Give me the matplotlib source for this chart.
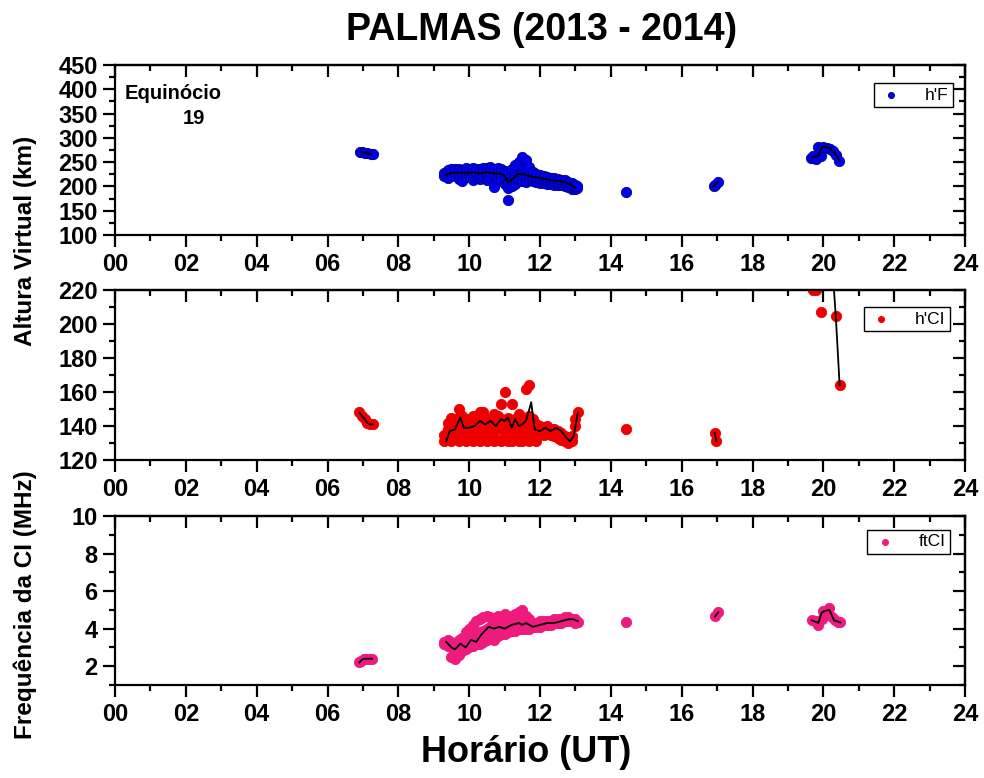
import numpy as np
import matplotlib
matplotlib.use("Agg")
import matplotlib.pyplot as plt

plt.rcParams['font.family'] = ['Liberation Sans', 'DejaVu Sans']

# ---- h'F (km) ----
hf_t = [6.92, 6.98, 7.05, 7.12, 7.22, 7.28,
        9.3, 9.3, 9.4, 9.4, 9.4, 9.5, 9.5, 9.5, 9.6, 9.6, 9.6, 9.7, 9.7, 9.7,
        9.8, 9.8, 9.8, 9.9, 9.9, 9.9, 10.0, 10.0, 10.0, 10.1, 10.1, 10.1,
        10.2, 10.2, 10.2, 10.3, 10.3, 10.3, 10.4, 10.4, 10.4, 10.5, 10.5, 10.5,
        10.6, 10.6, 10.6, 10.7, 10.7, 10.7, 10.8, 10.8, 10.8, 10.9, 10.9, 10.9,
        11.0, 11.0, 11.0, 11.1, 11.1, 11.1, 11.1, 11.2, 11.2, 11.2, 11.2,
        11.3, 11.3, 11.3, 11.3, 11.4, 11.4, 11.4, 11.5, 11.5, 11.5, 11.5,
        11.6, 11.6, 11.6, 11.6, 11.7, 11.7, 11.7, 11.8, 11.8, 11.8,
        11.9, 11.9, 11.9, 12.0, 12.0, 12.0, 12.1, 12.1, 12.1, 12.2, 12.2, 12.2,
        12.3, 12.3, 12.3, 12.4, 12.4, 12.4, 12.5, 12.5, 12.5, 12.6, 12.6, 12.6,
        12.7, 12.7, 12.7, 12.8, 12.8, 12.8, 12.9, 12.9, 12.9, 13.0, 13.0, 13.0,
        13.05, 13.05,
        14.43,
        16.9, 16.95, 17.03,
        19.65, 19.72, 19.8, 19.86, 19.92, 20.0, 20.1, 20.2, 20.28, 20.35, 20.45]
hf_v = [270, 271, 269, 268, 267, 266,
        222, 228, 218, 226, 233, 224, 230, 236, 221, 229, 235, 215, 226, 236,
        212, 228, 234, 219, 227, 237, 222, 230, 236, 214, 226, 238,
        220, 229, 235, 216, 224, 236, 222, 231, 238, 213, 227, 237,
        219, 230, 240, 198, 224, 236, 216, 229, 239, 212, 226, 235,
        205, 218, 232, 172, 196, 210, 228, 200, 212, 226, 236,
        205, 218, 232, 245, 215, 226, 251, 212, 222, 234, 261,
        210, 220, 231, 255, 215, 225, 241, 212, 221, 230,
        210, 218, 226, 208, 216, 224, 207, 215, 222, 206, 213, 219,
        205, 212, 218, 204, 211, 217, 203, 210, 215, 202, 208, 214,
        200, 207, 213, 198, 204, 210, 195, 201, 207, 194, 198, 204,
        196, 200,
        189,
        200, 204, 210,
        258, 262, 256, 282, 262, 282, 280, 278, 272, 265, 253]
hf_line_t = [6.95, 7.05, 7.25, np.nan,
             9.35, 9.5, 9.7, 9.9, 10.1, 10.3, 10.5, 10.7, 10.9, 11.0, 11.1, 11.2,
             11.35, 11.5, 11.7, 11.9, 12.1, 12.3, 12.5, 12.7, 12.85, 13.0, np.nan,
             16.9, 17.03, np.nan,
             19.7, 19.86, 19.95, 20.05, 20.2, 20.35, 20.45]
hf_line_v = [270, 269, 267, np.nan,
             224, 228, 229, 228, 229, 227, 229, 227, 226, 222, 208, 214,
             224, 227, 221, 219, 216, 213, 212, 209, 205, 197, np.nan,
             200, 210, np.nan,
             260, 262, 280, 282, 278, 266, 253]

# ---- h'CI (km) ----
hc_t = [6.9, 6.97, 7.05, 7.12, 7.2, 7.27,
        9.3, 9.3, 9.4, 9.4, 9.4, 9.5, 9.5, 9.5, 9.5, 9.6, 9.6, 9.6,
        9.7, 9.7, 9.7, 9.7, 9.8, 9.8, 9.8, 9.9, 9.9, 9.9, 10.0, 10.0, 10.0,
        10.1, 10.1, 10.1, 10.1, 10.2, 10.2, 10.2, 10.3, 10.3, 10.3, 10.3,
        10.4, 10.4, 10.4, 10.4, 10.5, 10.5, 10.5, 10.6, 10.6, 10.6,
        10.7, 10.7, 10.7, 10.7, 10.8, 10.8, 10.8, 10.9, 10.9, 10.9, 10.9,
        11.0, 11.0, 11.0, 11.0, 11.1, 11.1, 11.1, 11.2, 11.2, 11.2, 11.2,
        11.3, 11.3, 11.3, 11.4, 11.4, 11.4, 11.4, 11.5, 11.5, 11.5,
        11.6, 11.6, 11.6, 11.6, 11.7, 11.7, 11.7, 11.7, 11.8, 11.8, 11.8,
        11.9, 11.9, 11.9, 12.0, 12.0, 12.1, 12.1, 12.2, 12.2, 12.3, 12.3,
        12.4, 12.4, 12.5, 12.5, 12.6, 12.6, 12.7, 12.7, 12.8, 12.8,
        12.9, 12.9, 13.0, 13.0, 13.07,
        14.43,
        16.93, 16.98,
        19.7, 19.8, 19.93, 20.35, 20.46]
hc_v = [148, 146, 144, 142, 141, 141,
        131, 135, 132, 138, 142, 131, 136, 141, 145, 133, 139, 144,
        131, 137, 142, 150, 134, 140, 146, 131, 136, 143, 132, 138, 144,
        131, 135, 141, 146, 133, 139, 145, 131, 137, 143, 148,
        132, 140, 145, 148, 131, 136, 142, 133, 139, 144,
        131, 137, 143, 147, 132, 140, 146, 131, 138, 144, 153,
        132, 136, 142, 160, 131, 139, 145, 131, 135, 141, 153,
        132, 138, 144, 131, 136, 142, 147, 131, 139, 145,
        132, 137, 143, 162, 131, 140, 146, 164, 133, 138, 144,
        131, 136, 141, 137, 140, 135, 139, 136, 140, 135, 138,
        134, 138, 133, 137, 132, 136, 131, 134, 130, 133,
        131, 134, 140, 144, 148,
        138,
        136, 131,
        220, 220, 207, 205, 164]
hc_line_t = [6.9, 6.97, 7.05, 7.12, 7.2, 7.27, np.nan,
             9.35, 9.45, 9.6, 9.75, 9.85, 10.0, 10.15, 10.3, 10.45, 10.6, 10.75,
             10.9, 11.0, 11.1, 11.2, 11.3, 11.4, 11.5, 11.6, 11.7, 11.75, 11.85,
             12.0, 12.15, 12.3, 12.45, 12.6, 12.75, 12.85, 12.95, 13.07, np.nan,
             16.93, 16.98, np.nan,
             20.2, 20.35, 20.46]
hc_line_v = [148, 146, 144, 142, 141, 141, np.nan,
             131, 137, 138, 145, 139, 139, 140, 143, 141, 143, 140,
             144, 143, 145, 139, 144, 140, 141, 143, 150, 154, 138,
             137, 139, 137, 139, 137, 133, 131, 134, 148, np.nan,
             136, 131, np.nan,
             250, 205, 164]

# ---- ftCI (MHz) ----
fc_t = [6.9, 6.95, 7.02, 7.1, 7.18, 7.26,
        9.3, 9.3, 9.4, 9.4, 9.5, 9.5, 9.5, 9.6, 9.6, 9.6, 9.7, 9.7, 9.7,
        9.8, 9.8, 9.8, 9.9, 9.9, 9.9, 10.0, 10.0, 10.0, 10.1, 10.1, 10.1,
        10.2, 10.2, 10.2, 10.3, 10.3, 10.3, 10.4, 10.4, 10.4, 10.5, 10.5, 10.5,
        10.6, 10.6, 10.6, 10.7, 10.7, 10.7, 10.8, 10.8, 10.8, 10.9, 10.9, 10.9,
        11.0, 11.0, 11.0, 11.1, 11.1, 11.1, 11.2, 11.2, 11.2, 11.3, 11.3, 11.3,
        11.4, 11.4, 11.4, 11.5, 11.5, 11.5, 11.6, 11.6, 11.6, 11.7, 11.7, 11.7,
        11.8, 11.8, 11.9, 11.9, 12.0, 12.0, 12.1, 12.1, 12.2, 12.2, 12.3, 12.3,
        12.4, 12.4, 12.5, 12.5, 12.6, 12.6, 12.7, 12.7, 12.8, 12.8, 12.9, 12.9,
        13.0, 13.0, 13.07,
        14.43,
        16.94, 17.03,
        19.67, 19.78, 19.86, 19.95, 20.0, 20.1, 20.17, 20.25, 20.32, 20.4, 20.48]
fc_v = [2.2, 2.3, 2.4, 2.4, 2.4, 2.4,
        3.3, 3.2, 3.1, 3.4, 2.5, 3.0, 3.3, 2.4, 2.9, 3.2, 2.6, 3.1, 3.4,
        2.8, 3.2, 3.5, 2.9, 3.3, 3.8, 3.0, 3.5, 4.0, 3.1, 3.6, 4.2,
        3.2, 3.7, 4.4, 3.2, 3.8, 4.5, 3.3, 3.9, 4.6, 3.4, 4.0, 4.7,
        3.5, 4.1, 4.6, 3.4, 4.0, 4.5, 3.6, 4.1, 4.7, 3.7, 4.2, 4.6,
        3.7, 4.2, 4.8, 3.8, 4.3, 4.7, 3.9, 4.3, 4.6, 3.9, 4.3, 4.8,
        4.0, 4.4, 4.9, 4.0, 4.3, 5.0, 4.0, 4.3, 4.7, 4.0, 4.3, 4.5,
        4.1, 4.3, 4.1, 4.3, 4.1, 4.4, 4.2, 4.4, 4.2, 4.4, 4.2, 4.4,
        4.3, 4.5, 4.3, 4.5, 4.3, 4.5, 4.4, 4.6, 4.4, 4.6, 4.4, 4.5,
        4.3, 4.5, 4.35,
        4.35,
        4.65, 4.87,
        4.48, 4.4, 4.21, 4.5, 4.92, 4.95, 5.1, 4.6, 4.48, 4.35, 4.33]
fc_line_t = [6.9, 6.97, 7.05, 7.15, 7.26, np.nan,
             9.35, 9.5, 9.6, 9.75, 9.9, 10.05, 10.2, 10.35, 10.45, 10.55, 10.7,
             10.85, 11.0, 11.2, 11.4, 11.5, 11.6, 11.8, 12.0, 12.2, 12.4, 12.6,
             12.8, 12.95, 13.07, np.nan,
             16.94, 17.03, np.nan,
             19.67, 19.86, 19.95, 20.05, 20.17, 20.3, 20.48]
fc_line_v = [2.2, 2.35, 2.4, 2.4, 2.4, np.nan,
             3.3, 3.0, 2.9, 3.2, 3.0, 3.4, 3.3, 3.7, 3.9, 4.1, 4.0,
             4.1, 4.0, 4.2, 4.3, 4.2, 4.3, 4.1, 4.2, 4.3, 4.3, 4.4,
             4.5, 4.5, 4.4, np.nan,
             4.65, 4.87, np.nan,
             4.45, 4.3, 4.85, 4.95, 5.0, 4.45, 4.33]

hours = [0, 2, 4, 6, 8, 10, 12, 14, 16, 18, 20, 22, 24]
hour_labels = ['00', '02', '04', '06', '08', '10', '12', '14', '16', '18', '20', '22', '24']

fig = plt.figure(figsize=(9.84, 7.78), dpi=100)
L, W, H = 0.1169, 0.8638, 0.2185
ax1 = fig.add_axes([L, 0.6979, W, H])
ax2 = fig.add_axes([L, 0.4087, W, H])
ax3 = fig.add_axes([L, 0.1195, W, 0.2173])

panels = [
    (ax1, hf_t, hf_v, hf_line_t, hf_line_v, '#0000ee', '#00008a', "h'F", (100, 450), 50, 25, (0.986, 0.894)),
    (ax2, hc_t, hc_v, hc_line_t, hc_line_v, '#ee0000', '#ee0000', "h'CI", (120, 220), 20, 10, (0.982, 0.9)),
    (ax3, fc_t, fc_v, fc_line_t, fc_line_v, '#ee1a7d', '#ee1a7d', "ftCI", (1, 10), 2, 1, (0.982, 0.917)),
]

MAJ, MIN, LW = 8.6, 4.3, 1.6
for ax, t, v, lt, lv, col, ecol, lab, ylim, major, minor, anchor in panels:
    ax.scatter(t, v, s=55, color=col, edgecolors=ecol, linewidths=0.6, zorder=2, label=lab)
    ax.plot(lt, lv, color='black', lw=1.3, zorder=3)
    ax.set_xlim(0, 24)
    ax.set_ylim(*ylim)
    ax.set_xticks(hours)
    ax.set_xticklabels(hour_labels)
    ax.set_xticks(np.arange(1, 24, 2), minor=True)
    if lab == 'ftCI':
        ax.set_yticks([2, 4, 6, 8, 10])
        ax.set_yticks([1, 3, 5, 7, 9], minor=True)
    else:
        ax.set_yticks(np.arange(ylim[0], ylim[1] + 1, major))
        ax.set_yticks(np.arange(ylim[0], ylim[1] + 1, minor), minor=True)
    for sp in ax.spines.values():
        sp.set_linewidth(LW)
    ax.tick_params(which='major', direction='out', length=MAJ, width=LW, labelsize=17)
    ax.tick_params(axis='x', which='major', pad=4)
    ax.tick_params(axis='y', which='major', pad=4)
    ax.tick_params(which='minor', direction='out', length=MIN, width=LW)
    for lbl in ax.get_xticklabels() + ax.get_yticklabels():
        lbl.set_fontweight('bold')
    # top / right ticks pointing inward
    top = ax.secondary_xaxis('top')
    top.set_xticks(hours)
    top.set_xticks(np.arange(1, 24, 2), minor=True)
    top.tick_params(which='major', direction='in', length=MAJ, width=LW, labeltop=False)
    top.tick_params(which='minor', direction='in', length=MIN, width=LW)
    top.spines['top'].set_linewidth(LW)
    right = ax.secondary_yaxis('right')
    right.set_yticks(ax.get_yticks())
    right.set_yticks(ax.get_yticks(minor=True), minor=True)
    right.tick_params(which='major', direction='in', length=MAJ, width=LW, labelright=False)
    right.tick_params(which='minor', direction='in', length=MIN, width=LW)
    right.spines['right'].set_linewidth(LW)
    leg = ax.legend(loc='upper right', bbox_to_anchor=anchor, borderaxespad=0,
                    fancybox=False, framealpha=1, edgecolor='black', fontsize=12.5,
                    markerscale=0.6, handletextpad=1.2, borderpad=0.25,
                    handlelength=1.5)
    leg.get_frame().set_linewidth(1.0)

ax1.text(0.011, 0.835, 'Equinócio', transform=ax1.transAxes, fontsize=14.5,
         fontweight='bold', ha='left', va='center')
ax1.text(0.08, 0.688, '19', transform=ax1.transAxes, fontsize=14.5,
         fontweight='bold', ha='left', va='center')

fig.text(0.55, 0.962, 'PALMAS (2013 - 2014)', ha='center', va='center',
         fontsize=27, fontweight='bold')
fig.text(0.535, 0.033, 'Horário (UT)', ha='center', va='center',
         fontsize=26, fontweight='bold')
fig.text(0.026, 1 - 241 / 778, 'Altura Virtual (km)', rotation=90,
         ha='center', va='center', fontsize=17.5, fontweight='bold')
fig.text(0.026, 1 - 605 / 778, 'Frequência da CI (MHz)', rotation=90,
         ha='center', va='center', fontsize=17.5, fontweight='bold')

fig.savefig('out.png', dpi=100)
